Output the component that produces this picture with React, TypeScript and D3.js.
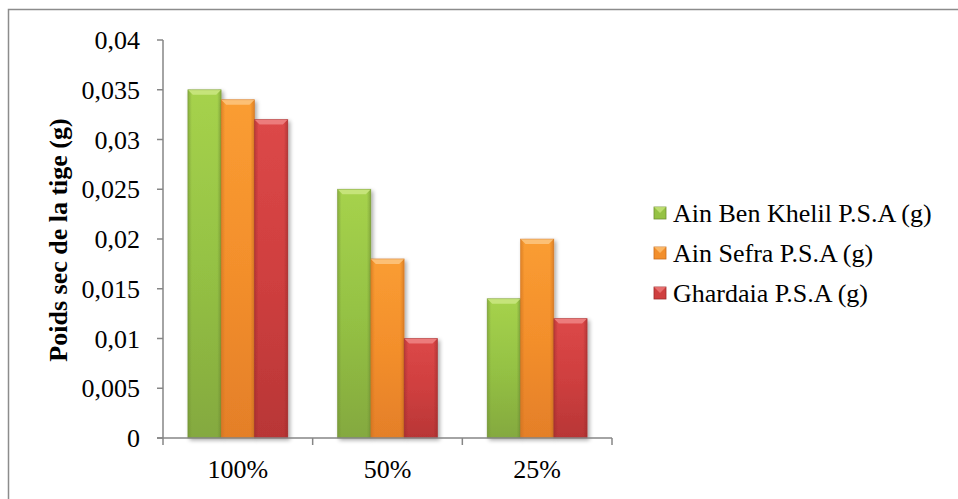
import React from "react";
import * as d3 from "d3";

const categories = ["100%", "50%", "25%"];
const seriesNames = ["Ain Ben Khelil P.S.A (g)", "Ain Sefra P.S.A (g)", "Ghardaia P.S.A (g)"];
const ainBenKhelil = [0.035, 0.025, 0.014];
const ainSefra = [0.034, 0.018, 0.02];
const ghardaia = [0.032, 0.01, 0.012];
const yTicks = [0, 0.005, 0.01, 0.015, 0.02, 0.025, 0.03, 0.035, 0.04];
const yTickLabels = ["0", "0,005", "0,01", "0,015", "0,02", "0,025", "0,03", "0,035", "0,04"];
const yTitle = "Poids sec de la tige (g)";

const seriesValues = [ainBenKhelil, ainSefra, ghardaia];
const palette = [
  { top: "#a6d24c", mid: "#95c244", bottom: "#84a93f", edge: "#6f8f33", bevel: "#c6e47a" },
  { top: "#fa9d32", mid: "#f38f2c", bottom: "#e47f28", edge: "#c96d1f", bevel: "#fcc074" },
  { top: "#dc4848", mid: "#cf3f3f", bottom: "#b83636", edge: "#9c2b2b", bevel: "#ec7b7b" },
];

const W = 958;
const H = 499;
const plotLeft = 163;
const plotRight = 612;
const plotTop = 40;
const plotBottom = 438;
const textStyle: React.CSSProperties = {
  fontFamily: "'Times New Roman', Times, 'Liberation Serif', serif",
  fontSize: "26px",
};

export default function App() {
  const y = d3.scaleLinear().domain([0, 0.04]).range([plotBottom, plotTop]);
  const x0 = d3.scaleBand<string>().domain(categories).range([plotLeft, plotRight]).padding(0);
  const cw = x0.bandwidth();
  const gap = cw * 0.166;
  const x1 = d3
    .scaleBand<number>()
    .domain(seriesNames.map((_, i) => i))
    .range([gap, cw - gap])
    .padding(0);
  const bw = x1.bandwidth();
  const bevel = 5;

  return (
    <svg
      width={W}
      height={H}
      style={{ position: "absolute", left: 0, top: 0, background: "#fff" }}
    >
      <defs>
        {palette.map((c, i) => (
          <React.Fragment key={i}>
            <linearGradient id={`hz${i}`} x1="0" x2="1" y1="0" y2="0">
              <stop offset="0" stopColor={c.edge} stopOpacity={0.55} />
              <stop offset="0.12" stopColor={c.edge} stopOpacity={0} />
              <stop offset="0.88" stopColor={c.edge} stopOpacity={0} />
              <stop offset="1" stopColor={c.edge} stopOpacity={0.6} />
            </linearGradient>
            <linearGradient id={`vt${i}`} x1="0" x2="0" y1="0" y2="1">
              <stop offset="0" stopColor={c.top} />
              <stop offset="0.5" stopColor={c.mid} />
              <stop offset="1" stopColor={c.bottom} />
            </linearGradient>
          </React.Fragment>
        ))}
        <filter id="shadow" x="-20%" y="-5%" width="150%" height="115%">
          <feGaussianBlur in="SourceAlpha" stdDeviation="2" />
          <feOffset dx="2" dy="2" result="b" />
          <feComponentTransfer>
            <feFuncA type="linear" slope="0.35" />
          </feComponentTransfer>
          <feMerge>
            <feMergeNode />
            <feMergeNode in="SourceGraphic" />
          </feMerge>
        </filter>
      </defs>

      {/* chart area border */}
      <rect x={8.5} y={9.5} width={W} height={H} fill="none" stroke="#8c8c8c" strokeWidth={1.5} />

      {/* bars */}
      {categories.map((cat, ci) => (
        <g key={cat} transform={`translate(${x0(cat)},0)`}>
          {seriesValues.map((vals, si) => {
            const bx = x1(si)!;
            const by = y(vals[ci]);
            const bh = plotBottom - by;
            const c = palette[si];
            return (
              <g key={si} filter="url(#shadow)">
                <rect x={bx} y={by} width={bw} height={bh} fill={`url(#vt${si})`} />
                <rect x={bx} y={by} width={bw} height={bh} fill={`url(#hz${si})`} />
                <polygon
                  points={`${bx},${by} ${bx + bw},${by} ${bx + bw - bevel},${by + bevel} ${bx + bevel},${by + bevel}`}
                  fill={c.bevel}
                />
                <rect x={bx} y={by} width={bw} height={bh} fill="none" stroke={c.edge} strokeOpacity={0.5} strokeWidth={0.8} />
              </g>
            );
          })}
        </g>
      ))}

      {/* y axis */}
      <line x1={plotLeft} x2={plotLeft} y1={plotTop} y2={plotBottom} stroke="#868686" strokeWidth={1.5} />
      {yTicks.map((t, i) => (
        <g key={t}>
          <line x1={plotLeft - 6} x2={plotLeft} y1={y(t)} y2={y(t)} stroke="#868686" strokeWidth={1.5} />
          <text x={plotLeft - 23} y={y(t)} dy="0.35em" textAnchor="end" style={textStyle} fill="#000">
            {yTickLabels[i]}
          </text>
        </g>
      ))}

      {/* x axis */}
      <line x1={plotLeft - 6} x2={plotRight} y1={plotBottom} y2={plotBottom} stroke="#868686" strokeWidth={1.5} />
      {[...categories.map((c) => x0(c)!), plotRight].map((px, i) => (
        <line key={i} x1={px} x2={px} y1={plotBottom} y2={plotBottom + 7} stroke="#868686" strokeWidth={1.5} />
      ))}
      {categories.map((c) => (
        <text key={c} x={x0(c)! + cw / 2} y={478} textAnchor="middle" style={textStyle} fill="#000">
          {c}
        </text>
      ))}

      {/* y title */}
      <text
        transform={`translate(67,240) rotate(-90)`}
        textAnchor="middle"
        style={{ ...textStyle, fontWeight: "bold" }}
        fill="#000"
      >
        {yTitle}
      </text>

      {/* legend */}
      {seriesNames.map((name, i) => {
        const base = 222 + i * 40;
        const cy = base - 9;
        const c = palette[i];
        return (
          <g key={name}>
            <rect x={654} y={cy - 6} width={12} height={12} fill={c.mid} stroke={c.edge} strokeWidth={0.8} />
            <polygon points={`${654},${cy - 6} ${666},${cy - 6} ${660},${cy}`} fill={c.bevel} opacity={0.8} />
            <text x={673} y={base} style={textStyle} fill="#000">
              {name}
            </text>
          </g>
        );
      })}
    </svg>
  );
}
